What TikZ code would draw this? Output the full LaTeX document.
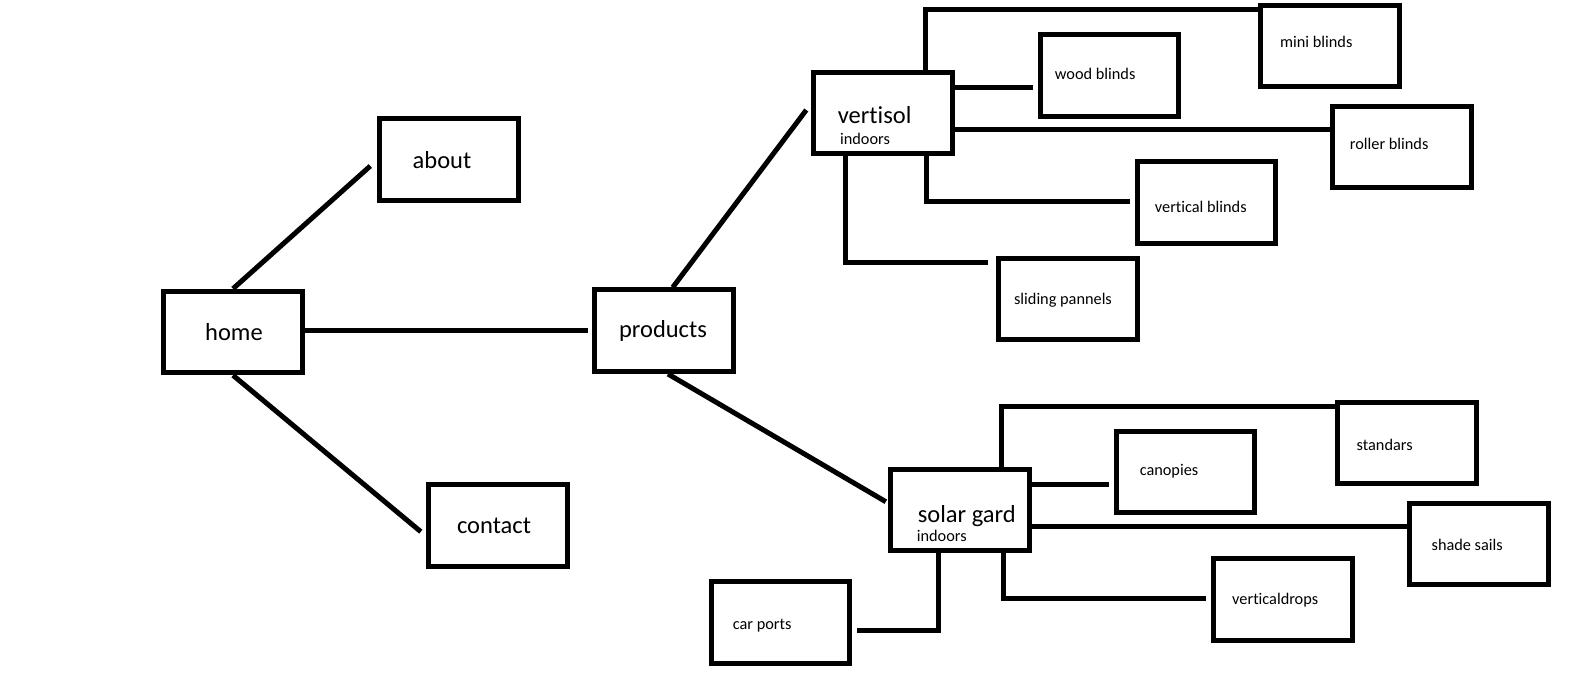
\documentclass[tikz,border=0pt]{standalone}
\usepackage{fontspec}
\setmainfont[Ligatures=NoCommon]{Carlito}
\usetikzlibrary{positioning}

\begin{document}
\begin{tikzpicture}[
    x=1pt, y=-1pt,
    box/.style={draw, line width=5pt, minimum width=138.4pt, minimum height=81.6pt, inner sep=0pt},
    wire/.style={line width=5pt},
    bigtxt/.style={font=\fontsize{24.5}{28}\selectfont, inner sep=0pt},
    smalltxt/.style={font=\fontsize{16.3}{19}\selectfont, inner sep=0pt}
]
\useasboundingbox (0,0) rectangle (1593,685);

% Main pages
\node[box, label={[bigtxt, xshift=1pt]center:home}] (home) at (233, 332) {};
\node[box, label={[bigtxt, xshift=-7pt]center:about}] (about) at (449, 159.7) {};
\node[box, label={[bigtxt, xshift=-4pt, yshift=-1pt]center:contact}] (contact) at (498, 525.3) {};
\node[box, label={[bigtxt, xshift=-1pt]center:products}] (products) at (664, 330.7) {};

% Vertisol branch
\node[box,
    label={[bigtxt, xshift=-8.4pt, yshift=-1.8pt]center:vertisol},
    label={[smalltxt, xshift=-18pt, yshift=-25.6pt]center:indoors}] (vert) at (883, 113) {};
\node[box, label={[smalltxt, xshift=-14pt, yshift=1pt]center:wood blinds}] (wood) at (1109.2, 75.2) {};
\node[box, label={[smalltxt, xshift=-13.7pt, yshift=3.7pt]center:mini blinds}] (mini) at (1330, 46) {};
\node[box, label={[smalltxt, xshift=-12.8pt, yshift=3pt]center:roller blinds}] (roller) at (1402, 147) {};
\node[box, label={[smalltxt, xshift=-5.7pt, yshift=-4.5pt]center:vertical blinds}] (vertical) at (1206.5, 202.5) {};
\node[box, label={[smalltxt, xshift=-5pt, yshift=-1.2pt]center:sliding pannels}] (sliding) at (1068, 298.8) {};

% Solar gard branch
\node[box,
    label={[bigtxt, xshift=6.8pt, yshift=-5.7pt]center:solar gard},
    label={[smalltxt, xshift=-18.2pt, yshift=-26pt]center:indoors}] (solar) at (960, 510) {};
\node[box, label={[smalltxt, xshift=-16.5pt, yshift=1pt]center:canopies}] (canopies) at (1185.5, 472) {};
\node[box, label={[smalltxt, xshift=-22.3pt, yshift=-2.3pt]center:standars}] (standars) at (1407, 443) {};
\node[box, label={[smalltxt, xshift=-11.8pt, yshift=-1pt]center:shade sails}] (shade) at (1479, 544) {};
\node[box, label={[smalltxt, xshift=-7.8pt]center:verticaldrops}] (vdrops) at (1283, 599.7) {};
\node[box, label={[smalltxt, xshift=-18pt, yshift=-3.5pt]center:car ports}] (carports) at (780.2, 622.5) {};

% Links from home
\draw[wire] (home.north) -- ([xshift=-7pt, yshift=-6.3pt]about.west);
\draw[wire] (home.south) -- ([xshift=-5.5pt, yshift=-6.4pt]contact.west);
\draw[wire] ([yshift=1.3pt]home.east) -- ([xshift=-4pt]products.west);

% Links from products
\draw[wire] ([xshift=8.7pt]products.north) -- ([xshift=-5pt, yshift=3pt]vert.west);
\draw[wire] ([xshift=4pt]products.south) -- ([xshift=-2.5pt, yshift=8.3pt]solar.west);

% Vertisol links
\draw[wire] ([xshift=42pt]vert.north) |- ([yshift=36pt]mini.west);
\draw[wire] ([yshift=25.7pt]vert.east) -- ([xshift=-5pt, yshift=-12.1pt]wood.west);
\draw[wire] ([yshift=-16.3pt]vert.east) -- ([yshift=17.7pt]roller.west);
\draw[wire] ([xshift=43.7pt]vert.south) |- ([xshift=-5pt, yshift=0.8pt]vertical.west);
\draw[wire] ([xshift=-38pt]vert.south) |- ([xshift=-8.8pt, yshift=36.1pt]sliding.west);

% Solar gard links
\draw[wire] ([xshift=41.7pt]solar.north) |- ([yshift=36.3pt]standars.west);
\draw[wire] ([yshift=26pt]solar.east) -- ([xshift=-4.6pt, yshift=-12pt]canopies.west);
\draw[wire] ([yshift=-16.7pt]solar.east) -- ([yshift=17.3pt]shade.west);
\draw[wire] ([xshift=43.3pt]solar.south) |- ([xshift=-5pt, yshift=1.4pt]vdrops.west);
\draw[wire] ([xshift=-21.7pt]solar.south) |- ([xshift=5.5pt, yshift=-8.2pt]carports.east);

\end{tikzpicture}
\end{document}
